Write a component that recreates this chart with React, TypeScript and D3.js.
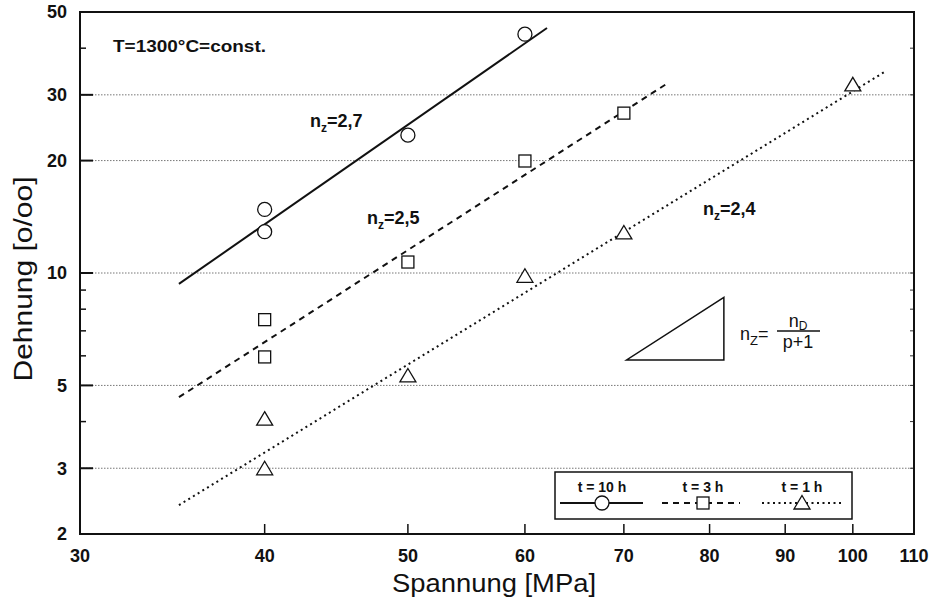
import React from "react";
import * as d3 from "d3";

// ---- data ----
const xTickValues = [30, 40, 50, 60, 70, 80, 90, 100, 110];
const yTickLabels = [2, 3, 5, 10, 20, 30, 50];
const yGridValues = [3, 5, 10, 20, 30];
const yMinorValues = [4, 6, 7, 8, 9, 40];

const stress10h = [40, 40, 50, 60];
const strain10h = [14.8, 12.9, 23.4, 43.6];
const stress3h = [40, 40, 50, 60, 70];
const strain3h = [7.5, 5.96, 10.7, 19.95, 26.8];
const stress1h = [40, 40, 50, 60, 70, 100];
const strain1h = [4.06, 2.99, 5.3, 9.8, 12.8, 31.9];

// fitted lines (endpoints)
const fit10hStress = [35, 62.1];
const fit10hStrain = [9.35, 45.3];
const fit3hStress = [35, 75];
const fit3hStrain = [4.65, 32.3];
const fit1hStress = [35, 105];
const fit1hStrain = [2.39, 34.5];

// slope triangle annotation (data coords)
const slopeTriStress = [70.3, 81.8, 81.8];
const slopeTriStrain = [5.85, 5.85, 8.6];

const legendLabels = ["t = 10 h", "t = 3 h", "t = 1 h"];

const W = 933;
const H = 603;
const L = 80, R = 914, T = 12, B = 534;

const x = d3.scaleLog().domain([30, 110]).range([L, R]);
const y = d3.scaleLog().domain([2, 50]).range([B, T]);

const FONT = "'Liberation Sans', Arial, Helvetica, sans-serif";

function Circle({ cx, cy }: { cx: number; cy: number }) {
  return <circle cx={cx} cy={cy} r={7} fill="white" stroke="#111" strokeWidth={1.3} />;
}
function Square({ cx, cy }: { cx: number; cy: number }) {
  return <rect x={cx - 6} y={cy - 6} width={12} height={12} fill="white" stroke="#111" strokeWidth={1.3} />;
}
function Tri({ cx, cy }: { cx: number; cy: number }) {
  const p = `${cx},${cy - 7.5} ${cx + 8},${cy + 6} ${cx - 8},${cy + 6}`;
  return <polygon points={p} fill="white" stroke="#111" strokeWidth={1.3} />;
}

function fitPath(sx: number[], sy: number[]) {
  const line = d3.line<number>().x((d, i) => x(sx[i])).y((d, i) => y(sy[i]));
  return line(sx) || "";
}

export default function App() {
  const triPath = d3
    .line<number>()
    .x((d, i) => x(slopeTriStress[i]))
    .y((d, i) => y(slopeTriStrain[i]))(slopeTriStress) + "Z";

  const legendCenters = [602, 703, 802];
  const legendY = 503;

  return (
    <svg
      width={W}
      height={H}
      style={{ position: "absolute", left: 0, top: 0, background: "white" }}
      fontFamily={FONT}
    >
      <rect x={0} y={0} width={W} height={H} fill="white" />

      {/* grid lines */}
      {yGridValues.map((v) => (
        <line key={"g" + v} x1={L} x2={R} y1={y(v)} y2={y(v)} stroke="#777" strokeWidth={1} strokeDasharray="1.5 1.5" />
      ))}

      {/* left major ticks */}
      {yGridValues.map((v) => (
        <line key={"lt" + v} x1={L} x2={L + 13} y1={y(v)} y2={y(v)} stroke="#111" strokeWidth={2} />
      ))}
      {yMinorValues.map((v) => (
        <line key={"lm" + v} x1={L} x2={L + 6} y1={y(v)} y2={y(v)} stroke="#111" strokeWidth={1.5} />
      ))}
      {/* right ticks */}
      {yGridValues.concat(yMinorValues).map((v) => (
        <line key={"rt" + v} x1={R - 4} x2={R} y1={y(v)} y2={y(v)} stroke="#333" strokeWidth={1} />
      ))}
      {/* bottom ticks */}
      {xTickValues.slice(1, -1).map((v) => (
        <line key={"bt" + v} x1={x(v)} x2={x(v)} y1={B} y2={B - 10} stroke="#111" strokeWidth={1.5} />
      ))}

      {/* frame */}
      <rect x={L} y={T} width={R - L} height={B - T} fill="none" stroke="#111" strokeWidth={2} />

      {/* y tick labels */}
      {yTickLabels.map((v) => (
        <text key={"yl" + v} x={67} y={y(v)} dy="0.36em" textAnchor="end" fontSize={18} fontWeight="bold" fill="#111">
          {v}
        </text>
      ))}
      {/* x tick labels */}
      {xTickValues.map((v) => (
        <text key={"xl" + v} x={x(v)} y={562} textAnchor="middle" fontSize={18} fontWeight="bold" fill="#111">
          {v}
        </text>
      ))}

      {/* axis titles */}
      <text x={494} y={592} textAnchor="middle" fontSize={26} fill="#111" textLength={204} lengthAdjust="spacingAndGlyphs">
        Spannung [MPa]
      </text>
      <text
        transform={`translate(32,279) rotate(-90)`}
        textAnchor="middle"
        fontSize={26}
        fill="#111"
        textLength={205}
        lengthAdjust="spacingAndGlyphs"
      >
        Dehnung [o/oo]
      </text>

      {/* fitted lines */}
      <path d={fitPath(fit10hStress, fit10hStrain)} fill="none" stroke="#111" strokeWidth={2} />
      <path d={fitPath(fit3hStress, fit3hStrain)} fill="none" stroke="#111" strokeWidth={2} strokeDasharray="6 5" />
      <path d={fitPath(fit1hStress, fit1hStrain)} fill="none" stroke="#111" strokeWidth={2} strokeDasharray="2 3.5" />

      {/* markers */}
      {stress10h.map((s, i) => (
        <Circle key={"c" + i} cx={x(s)} cy={y(strain10h[i])} />
      ))}
      {stress3h.map((s, i) => (
        <Square key={"s" + i} cx={x(s)} cy={y(strain3h[i])} />
      ))}
      {stress1h.map((s, i) => (
        <Tri key={"t" + i} cx={x(s)} cy={y(strain1h[i])} />
      ))}

      {/* annotations */}
      <text x={113} y={52} fontSize={17} fontWeight="bold" fill="#111" textLength={153} lengthAdjust="spacingAndGlyphs">
        T=1300°C=const.
      </text>

      <text x={310} y={127} fontSize={18} fontWeight="bold" fill="#111">
        n<tspan fontSize={12} dy={5}>z</tspan>
        <tspan dy={-5}>=2,7</tspan>
      </text>
      <text x={367} y={224} fontSize={18} fontWeight="bold" fill="#111">
        n<tspan fontSize={12} dy={5}>z</tspan>
        <tspan dy={-5}>=2,5</tspan>
      </text>
      <text x={703} y={215} fontSize={18} fontWeight="bold" fill="#111">
        n<tspan fontSize={12} dy={5}>z</tspan>
        <tspan dy={-5}>=2,4</tspan>
      </text>

      {/* slope triangle */}
      <path d={triPath} fill="none" stroke="#111" strokeWidth={1.5} />
      <text x={740} y={340} fontSize={18} fill="#111">
        n<tspan fontSize={13} dy={5}>Z</tspan>
        <tspan dy={-5}>=</tspan>
      </text>
      <text x={798} y={327} textAnchor="middle" fontSize={18} fill="#111">
        n<tspan fontSize={12} dy={3}>D</tspan>
      </text>
      <line x1={777} x2={820} y1={331} y2={331} stroke="#111" strokeWidth={1.3} />
      <text x={798} y={348} textAnchor="middle" fontSize={18} fill="#111">
        p+1
      </text>

      {/* legend */}
      <rect x={555} y={472} width={297} height={47} fill="white" stroke="#111" strokeWidth={1.5} />
      {legendLabels.map((lab, i) => (
        <text key={"lg" + i} x={legendCenters[i]} y={492} textAnchor="middle" fontSize={14} fontWeight="bold" fill="#111">
          {lab}
        </text>
      ))}
      <line x1={560} x2={643} y1={legendY} y2={legendY} stroke="#111" strokeWidth={2} />
      <Circle cx={legendCenters[0]} cy={legendY} />
      <line x1={662} x2={740} y1={legendY} y2={legendY} stroke="#111" strokeWidth={2} strokeDasharray="6 5" />
      <Square cx={legendCenters[1]} cy={legendY} />
      <line x1={762} x2={842} y1={legendY} y2={legendY} stroke="#111" strokeWidth={2} strokeDasharray="2 3.5" />
      <Tri cx={legendCenters[2]} cy={legendY} />
    </svg>
  );
}
